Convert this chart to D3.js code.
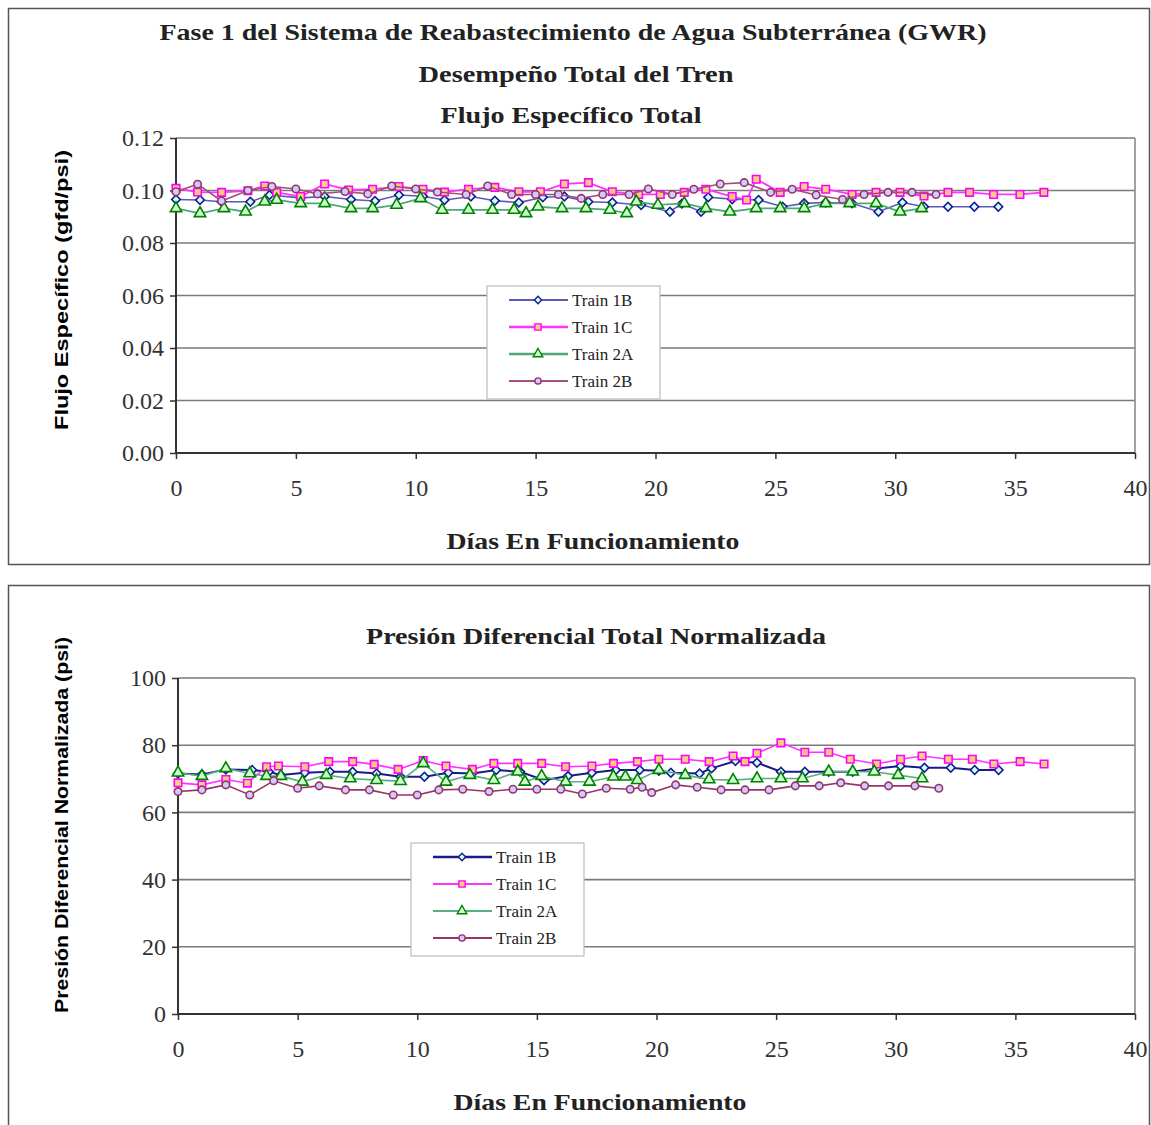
<!DOCTYPE html>
<html>
<head>
<meta charset="utf-8">
<script src="https://cdn.jsdelivr.net/npm/d3@7/dist/d3.min.js"></script>
<style>
	body { margin: 0; background: #fff; }
	svg text { font-family: "Liberation Serif", "Times New Roman", serif; }
	.ylabel { font-family: "Liberation Sans", Arial, sans-serif; font-weight: bold; }
	.title { font-weight: bold; }
</style>
</head>
<body>
<div id="page"></div>
<script>
// tick values
var dayTicks = [0, 5, 10, 15, 20, 25, 30, 35, 40];
var fluxTicks = [0, 0.02, 0.04, 0.06, 0.08, 0.10, 0.12];
var pressureTicks = [0, 20, 40, 60, 80, 100];
var seriesNames = ["Train 1B", "Train 1C", "Train 2A", "Train 2B"];

// specific flux (gfd/psi)
var flux1BDays = [0, 1.0, 1.9, 3.1, 3.9, 5.2, 6.2, 7.3, 8.3, 9.3, 10.3, 11.2, 12.3, 13.3, 14.3, 15.3, 16.2, 17.2, 18.2, 19.4, 20.6, 21.1, 21.9, 22.2, 23.2, 24.3, 25.3, 26.2, 27.1, 28.2, 29.3, 30.3, 31.2, 32.2, 33.3, 34.3];
var flux1B = [0.0966, 0.0964, 0.0957, 0.0957, 0.0983, 0.0972, 0.0977, 0.0966, 0.0960, 0.0983, 0.0978, 0.0964, 0.0977, 0.0961, 0.0954, 0.0974, 0.0977, 0.0957, 0.0954, 0.0945, 0.0919, 0.0950, 0.0919, 0.0974, 0.0967, 0.0964, 0.0938, 0.0951, 0.0954, 0.0951, 0.0919, 0.0954, 0.0938, 0.0938, 0.0938, 0.0938];

var flux1CDays = [0, 0.9, 1.9, 3.0, 3.7, 4.2, 5.2, 6.2, 7.2, 8.2, 9.3, 10.3, 11.2, 12.2, 13.3, 14.3, 15.2, 16.2, 17.2, 18.2, 19.3, 20.2, 21.2, 22.1, 23.2, 23.8, 24.2, 25.2, 26.2, 27.1, 28.2, 29.2, 30.2, 31.2, 32.2, 33.1, 34.1, 35.2, 36.2];
var flux1C = [0.1008, 0.0994, 0.0993, 0.0999, 0.1017, 0.0993, 0.0977, 0.1025, 0.1002, 0.1005, 0.1015, 0.1005, 0.0994, 0.1005, 0.1012, 0.0995, 0.0995, 0.1025, 0.1030, 0.0995, 0.0985, 0.0985, 0.0993, 0.1005, 0.0977, 0.0964, 0.1043, 0.0993, 0.1015, 0.1005, 0.0985, 0.0993, 0.0993, 0.0979, 0.0993, 0.0993, 0.0985, 0.0985, 0.0993];

var flux2ADays = [0, 1.0, 2.0, 2.9, 3.7, 4.2, 5.2, 6.2, 7.3, 8.2, 9.2, 10.2, 11.1, 12.2, 13.2, 14.1, 14.6, 15.1, 16.1, 17.1, 18.1, 18.8, 19.2, 20.1, 21.2, 22.1, 23.1, 24.2, 25.2, 26.2, 27.1, 28.1, 29.2, 30.2, 31.1];
var flux2A = [0.0932, 0.0913, 0.0932, 0.0919, 0.0957, 0.0964, 0.0951, 0.0951, 0.0932, 0.0932, 0.0945, 0.0970, 0.0926, 0.0926, 0.0926, 0.0926, 0.0913, 0.0938, 0.0932, 0.0932, 0.0926, 0.0913, 0.0957, 0.0945, 0.0951, 0.0932, 0.0919, 0.0932, 0.0932, 0.0932, 0.0951, 0.0951, 0.0951, 0.0919, 0.0932];

var flux2BDays = [0, 0.9, 1.9, 3.0, 4.0, 5.0, 5.9, 7.05, 8.0, 9.0, 10.0, 10.9, 12.1, 13.0, 14.0, 15.0, 15.95, 16.9, 17.8, 18.9, 19.7, 20.7, 21.6, 22.7, 23.7, 24.8, 25.7, 26.7, 27.8, 28.7, 29.7, 30.7, 31.7];
var flux2B = [0.0995, 0.1024, 0.0960, 0.1000, 0.1015, 0.1006, 0.0987, 0.0996, 0.0987, 0.1017, 0.1006, 0.0994, 0.0985, 0.1017, 0.0985, 0.0985, 0.0985, 0.0970, 0.0985, 0.0985, 0.1006, 0.0985, 0.1005, 0.1025, 0.1030, 0.0993, 0.1005, 0.0983, 0.0966, 0.0985, 0.0993, 0.0993, 0.0985];

// normalized differential pressure (psi)
var press1BDays = [0, 1.0, 2.0, 3.1, 3.8, 4.3, 5.3, 6.35, 7.3, 8.3, 9.3, 10.3, 11.3, 12.3, 13.3, 14.3, 15.3, 16.3, 17.3, 18.3, 19.3, 20.1, 20.6, 21.8, 22.3, 23.3, 24.2, 25.2, 26.2, 27.2, 28.2, 29.2, 30.2, 31.2, 32.3, 33.3, 34.3];
var press1B = [71.6, 71.3, 72.8, 72.6, 72.1, 71.1, 71.8, 72.1, 72.1, 71.6, 70.6, 70.6, 71.8, 71.6, 72.6, 72.1, 69.6, 70.8, 71.8, 72.6, 72.6, 72.4, 71.8, 71.6, 73.1, 75.3, 74.8, 72.1, 72.1, 72.1, 72.1, 73.1, 73.8, 73.3, 73.3, 72.6, 72.6];

var press1CDays = [0, 1.0, 2.0, 2.9, 3.7, 4.2, 5.3, 6.3, 7.3, 8.2, 9.2, 10.25, 11.2, 12.3, 13.2, 14.2, 15.2, 16.2, 17.3, 18.2, 19.2, 20.1, 21.2, 22.2, 23.2, 23.7, 24.2, 25.2, 26.2, 27.2, 28.1, 29.2, 30.2, 31.1, 32.2, 33.2, 34.1, 35.2, 36.2];
var press1C = [68.8, 68.2, 69.8, 68.7, 73.6, 73.8, 73.6, 75.1, 75.1, 74.3, 72.8, 75.4, 73.8, 72.8, 74.6, 74.6, 74.6, 73.6, 73.8, 74.6, 75.1, 75.8, 75.8, 75.1, 76.8, 75.1, 77.6, 80.7, 77.9, 77.9, 75.8, 74.4, 75.8, 76.8, 75.8, 75.8, 74.4, 75.1, 74.4];

var press2ADays = [0, 1.0, 2.0, 3.0, 3.7, 4.3, 5.2, 6.2, 7.2, 8.3, 9.3, 10.25, 11.2, 12.2, 13.2, 14.2, 14.5, 15.2, 16.2, 17.2, 18.2, 18.7, 19.2, 20.1, 21.2, 22.2, 23.2, 24.2, 25.2, 26.1, 27.2, 28.2, 29.1, 30.1, 31.1];
var press2A = [71.8, 70.8, 73.1, 71.6, 70.8, 70.8, 69.1, 71.1, 70.1, 69.6, 69.3, 74.6, 69.1, 71.1, 69.6, 72.1, 69.1, 70.8, 69.1, 69.1, 70.6, 70.6, 69.6, 72.6, 71.1, 69.8, 69.6, 70.1, 70.1, 70.1, 72.1, 72.1, 72.1, 71.1, 70.1];

var press2BDays = [0, 1.0, 2.0, 3.0, 4.0, 5.0, 5.9, 7.0, 8.0, 9.0, 10.0, 10.9, 11.9, 13.0, 14.0, 15.0, 16.0, 16.9, 17.9, 18.9, 19.4, 19.8, 20.8, 21.7, 22.7, 23.7, 24.7, 25.8, 26.8, 27.7, 28.7, 29.7, 30.8, 31.8];
var press2B = [66.2, 66.7, 68.2, 65.2, 69.4, 67.2, 67.9, 66.7, 66.7, 65.2, 65.2, 66.7, 66.9, 66.2, 66.9, 66.9, 66.9, 65.5, 67.2, 66.9, 67.5, 65.9, 68.2, 67.5, 66.7, 66.7, 66.7, 67.9, 67.9, 68.8, 67.9, 67.9, 67.9, 67.2];

function zip(days, values) {
	return days.map(function(d, i) { return { day: d, value: values[i] }; });
}

// marker shapes and colours for the four trains
var markers = [
	{ shape: d3.symbolSquare, size: 38, rotate: 45, stroke: "#1a1a8c", fill: "#ccffff" },
	{ shape: d3.symbolSquare, size: 56, rotate: 0, stroke: "#ff00ff", fill: "#ffcc80" },
	{ shape: d3.symbolTriangle, size: 56, rotate: 0, stroke: "#008000", fill: "#ccffcc" },
	{ shape: d3.symbolCircle, size: 44, rotate: 0, stroke: "#993366", fill: "#ccccff" }
];

var svg = d3.select("#page")
  .append("svg")
	.attr("width", 1151)
	.attr("height", 1125);

// panel frames
svg.append("rect")
	.attr("x", 8.5).attr("y", 8.5)
	.attr("width", 1141).attr("height", 556)
	.style("fill", "none").style("stroke", "#555").style("stroke-width", 1.5);
svg.append("rect")
	.attr("x", 8.5).attr("y", 585.5)
	.attr("width", 1141).attr("height", 560)
	.style("fill", "none").style("stroke", "#555").style("stroke-width", 1.5);

function createChart(config) {
	var x = d3.scaleLinear().domain([0, 40]).range([config.left, config.right]);
	var y = d3.scaleLinear().domain([0, config.yMax]).range([config.bottom, config.top]);
	var chart = svg.append("g");

	// gridlines
	chart.selectAll(".grid")
		.data(config.yTicks)
	  .enter().append("line")
		.attr("x1", config.left).attr("x2", config.right)
		.attr("y1", function(d) { return y(d); })
		.attr("y2", function(d) { return y(d); })
		.style("stroke", "#7a7a7a").style("stroke-width", 1.6);

	// right border of plot area
	chart.append("line")
		.attr("x1", config.right).attr("x2", config.right)
		.attr("y1", config.top).attr("y2", config.bottom)
		.style("stroke", "#8a8a8a").style("stroke-width", 1.6);

	// y axis
	var yAxis = d3.axisLeft(y)
		.tickValues(config.yTicks)
		.tickFormat(config.yFormat)
		.tickSize(6)
		.tickPadding(6);
	var gy = chart.append("g")
		.attr("transform", "translate(" + config.left + ",0)")
		.call(yAxis);

	// x axis
	var xAxis = d3.axisBottom(x)
		.tickValues(dayTicks)
		.tickFormat(d3.format("d"))
		.tickSize(6)
		.tickPadding(20);
	var gx = chart.append("g")
		.attr("transform", "translate(0," + config.bottom + ")")
		.call(xAxis);

	[gx, gy].forEach(function(g) {
		g.select(".domain").style("stroke", "#333").style("stroke-width", 2);
		g.selectAll(".tick line").style("stroke", "#333").style("stroke-width", 1.5);
		g.selectAll(".tick text")
			.style("font-family", "'Liberation Serif', serif")
			.style("font-size", "24px")
			.style("fill", "#333");
	});
	gx.select(".domain").attr("d", "M" + config.left + ",0H" + config.right);
	gy.select(".domain").attr("d", "M0," + config.bottom + "V" + config.top);

	// series lines and markers
	config.series.forEach(function(s, i) {
		var m = markers[i];
		var line = d3.line()
			.x(function(d) { return x(d.day); })
			.y(function(d) { return y(d.value); });
		chart.append("path")
			.datum(s)
			.attr("d", line)
			.style("fill", "none")
			.style("stroke", config.lineColors[i])
			.style("stroke-width", config.lineWidths[i]);
		chart.selectAll(".m" + i)
			.data(s)
		  .enter().append("path")
			.attr("d", d3.symbol().type(m.shape).size(m.size))
			.attr("transform", function(d) { return "translate(" + x(d.day) + "," + y(d.value) + ") rotate(" + m.rotate + ")"; })
			.style("fill", m.fill)
			.style("stroke", m.stroke)
			.style("stroke-width", 1.6);
	});

	// legend
	var lg = chart.append("g")
		.attr("transform", "translate(" + config.legend[0] + "," + config.legend[1] + ")");
	lg.append("rect")
		.attr("width", 173).attr("height", 113)
		.style("fill", "#fff").style("stroke", "#bbb").style("stroke-width", 1.2);
	seriesNames.forEach(function(name, i) {
		var m = markers[i];
		var ly = 14 + i * 27;
		lg.append("line")
			.attr("x1", 22).attr("x2", 81)
			.attr("y1", ly).attr("y2", ly)
			.style("stroke", config.lineColors[i])
			.style("stroke-width", config.lineWidths[i] + 0.5);
		lg.append("path")
			.attr("d", d3.symbol().type(m.shape).size(m.size * 0.7))
			.attr("transform", "translate(51," + ly + ") rotate(" + m.rotate + ")")
			.style("fill", m.fill)
			.style("stroke", m.stroke)
			.style("stroke-width", 1.4);
		lg.append("text")
			.attr("x", 85).attr("y", ly)
			.attr("dy", "0.35em")
			.style("font-size", "17px")
			.style("fill", "#222")
			.text(name);
	});

	// axis titles
	chart.append("text")
		.attr("class", "title")
		.attr("x", config.xTitleX)
		.attr("y", config.xTitleY)
		.attr("text-anchor", "middle")
		.style("font-size", "23px")
		.style("fill", "#222")
		.attr("textLength", 293)
		.attr("lengthAdjust", "spacingAndGlyphs")
		.text("Días En Funcionamiento");

	chart.append("text")
		.attr("class", "ylabel")
		.attr("transform", "translate(68," + config.yTitleY + ") rotate(-90)")
		.attr("text-anchor", "middle")
		.attr("textLength", config.yTitleLength)
		.attr("lengthAdjust", "spacingAndGlyphs")
		.style("font-size", "19px")
		.style("fill", "#000")
		.text(config.yTitle);
}

// title block
var titles = [
	{ text: "Fase 1 del Sistema de Reabastecimiento de Agua Subterránea (GWR)", x: 573, y: 40, w: 827 },
	{ text: "Desempeño Total del Tren", x: 576, y: 82, w: 315 },
	{ text: "Flujo Específico Total", x: 571, y: 123, w: 261 },
	{ text: "Presión Diferencial Total Normalizada", x: 596, y: 644, w: 460 }
];
titles.forEach(function(t) {
	svg.append("text")
		.attr("class", "title")
		.attr("x", t.x)
		.attr("y", t.y)
		.attr("text-anchor", "middle")
		.attr("textLength", t.w)
		.attr("lengthAdjust", "spacingAndGlyphs")
		.style("font-size", "23px")
		.style("fill", "#222")
		.text(t.text);
});

createChart({
	left: 176, right: 1135, top: 138, bottom: 453,
	yMax: 0.12, yTicks: fluxTicks, yFormat: d3.format(".2f"),
	series: [zip(flux1BDays, flux1B), zip(flux1CDays, flux1C), zip(flux2ADays, flux2A), zip(flux2BDays, flux2B)],
	lineColors: ["#5a5ab8", "#ff33ff", "#4fa878", "#a0507a"],
	lineWidths: [1.6, 1.8, 1.8, 1.6],
	legend: [487, 286],
	xTitleX: 593, xTitleY: 549,
	yTitle: "Flujo Específico (gfd/psi)", yTitleY: 290, yTitleLength: 280
});

createChart({
	left: 178, right: 1135, top: 678, bottom: 1014,
	yMax: 100, yTicks: pressureTicks, yFormat: d3.format("d"),
	series: [zip(press1BDays, press1B), zip(press1CDays, press1C), zip(press2ADays, press2A), zip(press2BDays, press2B)],
	lineColors: ["#1a1a8c", "#ff33ff", "#5aae82", "#993366"],
	lineWidths: [2, 1.6, 1.6, 1.6],
	legend: [411, 843],
	xTitleX: 600, xTitleY: 1110,
	yTitle: "Presión Diferencial Normalizada (psi)", yTitleY: 825, yTitleLength: 376
});
</script>
</body>
</html>
